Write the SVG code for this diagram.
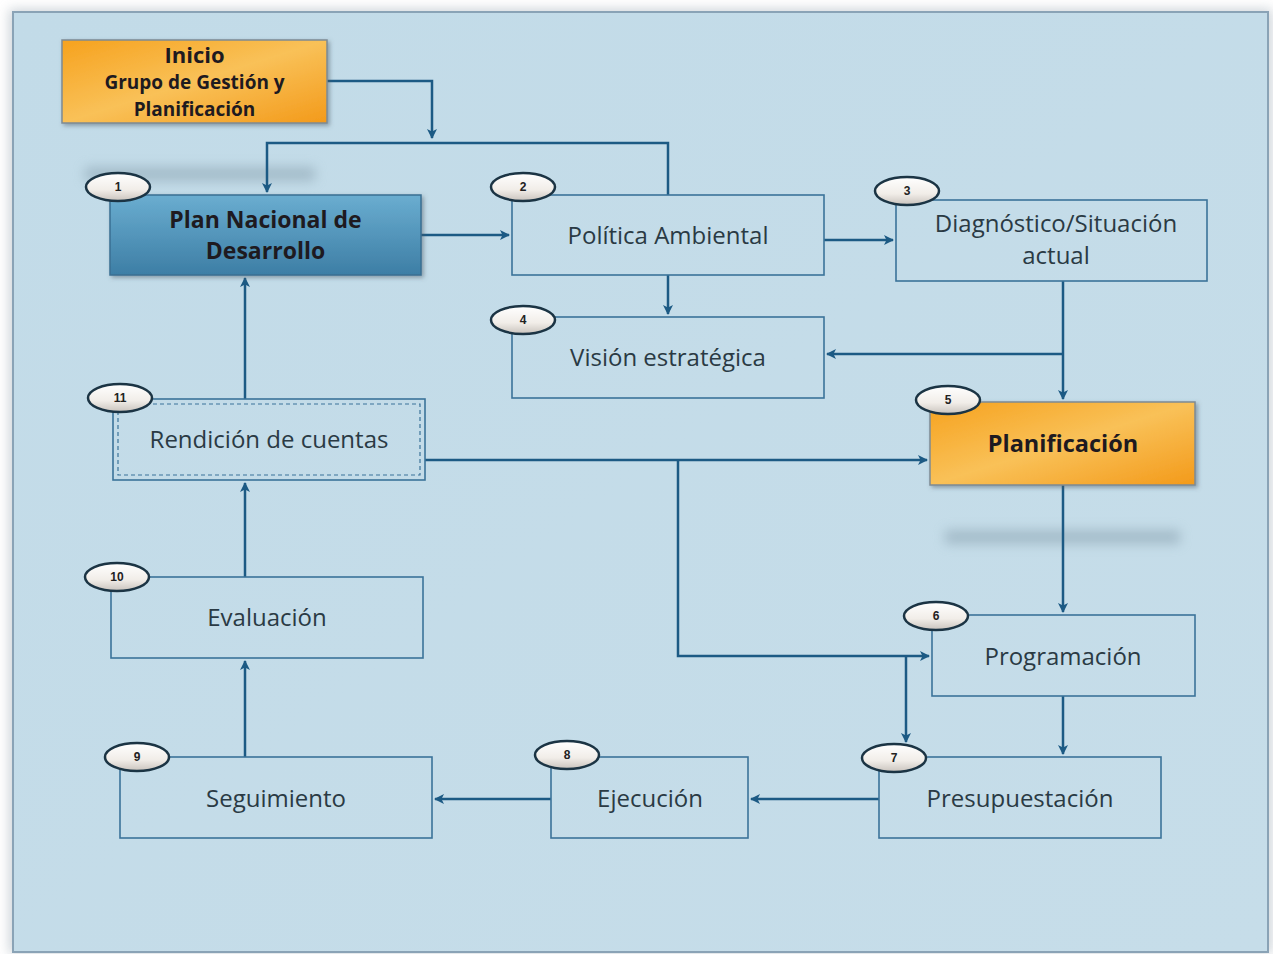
<svg xmlns="http://www.w3.org/2000/svg" width="1273" height="954" viewBox="0 0 1273 954">
<defs>
<linearGradient id="gOrange" x1="0" y1="0" x2="1" y2="1">
<stop offset="0" stop-color="#f6a21e"/>
<stop offset="0.5" stop-color="#f9c158"/>
<stop offset="1" stop-color="#f39a1a"/>
</linearGradient>
<linearGradient id="gBlue" x1="0" y1="0" x2="0" y2="1">
<stop offset="0" stop-color="#6aadd0"/>
<stop offset="1" stop-color="#3d7ea5"/>
</linearGradient>
<linearGradient id="gBadge" x1="0" y1="0" x2="0" y2="1">
<stop offset="0" stop-color="#ffffff"/>
<stop offset="0.6" stop-color="#f1ede8"/>
<stop offset="1" stop-color="#c9c3bd"/>
</linearGradient>
<linearGradient id="gPanel" x1="0" y1="0" x2="1" y2="1">
<stop offset="0" stop-color="#c2dbe8"/>
<stop offset="1" stop-color="#c6dde9"/>
</linearGradient>
<filter id="blur" x="-20%" y="-100%" width="140%" height="300%">
<feGaussianBlur stdDeviation="6"/>
</filter>
<filter id="shadow" x="-5%" y="-10%" width="115%" height="130%">
<feDropShadow dx="2" dy="2" stdDeviation="2" flood-color="#4a5a66" flood-opacity="0.5"/>
</filter>
<marker id="arr" viewBox="0 0 10 10" refX="9" refY="5" markerWidth="4" markerHeight="4" orient="auto-start-reverse" markerUnits="strokeWidth">
<path d="M0,0 L10,5 L0,10 L2.5,5 z" fill="#1c5a84"/>
</marker>
</defs>
<style>
.box{fill:none;stroke:#3b7399;stroke-width:1.6}
.lbl{font-family:"Open Sans","Noto Sans","Liberation Sans",sans-serif;font-size:24px;fill:#2a3a44;text-anchor:middle}
.bold{font-family:"Open Sans","Noto Sans","Liberation Sans",sans-serif;font-weight:bold;fill:#1e1a20;text-anchor:middle}
.badge{fill:url(#gBadge);stroke:#1b3444;stroke-width:2.5}
.bnum{font-family:"Liberation Sans","DejaVu Sans",sans-serif;font-weight:bold;font-size:12px;fill:#222;text-anchor:middle}
.con{fill:none;stroke:#1c5a84;stroke-width:2.5}
</style>
<rect x="0" y="0" width="1273" height="954" fill="#ffffff"/>
<rect x="9" y="9" width="1263" height="945" fill="#b9c2c9" filter="url(#blur)" opacity="0.7"/>
<rect x="13" y="12" width="1255" height="940" fill="url(#gPanel)" stroke="#8aa3b6" stroke-width="2"/>
<rect x="85" y="167" width="230" height="14" fill="#8ea6b4" filter="url(#blur)" opacity="0.6"/>
<rect x="945" y="530" width="235" height="14" fill="#8ea6b4" filter="url(#blur)" opacity="0.6"/>

<g id="connectors">
<path class="con" d="M327,81 H432 V138" marker-end="url(#arr)"/>
<path class="con" d="M668,195 V143 H267 V192" marker-end="url(#arr)"/>
<path class="con" d="M421,235 H509" marker-end="url(#arr)"/>
<path class="con" d="M824,240 H893" marker-end="url(#arr)"/>
<path class="con" d="M668,275 V314" marker-end="url(#arr)"/>
<path class="con" d="M1063,281 V399" marker-end="url(#arr)"/>
<path class="con" d="M1063,354 H827" marker-end="url(#arr)"/>
<path class="con" d="M425,460 H927" marker-end="url(#arr)"/>
<path class="con" d="M678,460 V656 H929" marker-end="url(#arr)"/>
<path class="con" d="M906,656 V742" marker-end="url(#arr)"/>
<path class="con" d="M1063,485 V612" marker-end="url(#arr)"/>
<path class="con" d="M1063,696 V754" marker-end="url(#arr)"/>
<path class="con" d="M879,799 H751" marker-end="url(#arr)"/>
<path class="con" d="M551,799 H435" marker-end="url(#arr)"/>
<path class="con" d="M245,757 V661" marker-end="url(#arr)"/>
<path class="con" d="M245,577 V483" marker-end="url(#arr)"/>
<path class="con" d="M245,399 V278" marker-end="url(#arr)"/>
</g>

<g id="inicio">
<rect x="62" y="40" width="265" height="83" fill="url(#gOrange)" stroke="#7d8a94" stroke-width="1.5" filter="url(#shadow)"/>
<text class="bold" x="194.5" y="63" font-size="22">Inicio</text>
<text class="bold" x="194.5" y="89" font-size="19">Grupo de Gestión y</text>
<text class="bold" x="194.5" y="116" font-size="19">Planificación</text>
</g>

<g id="n1">
<rect x="110" y="195" width="311" height="80" fill="url(#gBlue)" stroke="#3a6f92" stroke-width="1.5" filter="url(#shadow)"/>
<text class="bold" x="265.5" y="228" font-size="23" fill="#142230">Plan Nacional de</text>
<text class="bold" x="265.5" y="259" font-size="23">Desarrollo</text>
<ellipse class="badge" cx="118" cy="187" rx="32" ry="14"/>
<text class="bnum" x="118" y="191">1</text>
</g>

<g id="n2">
<rect class="box" x="512" y="195" width="312" height="80"/>
<text class="lbl" x="668" y="244">Política Ambiental</text>
<ellipse class="badge" cx="523" cy="187" rx="32" ry="14"/>
<text class="bnum" x="523" y="191">2</text>
</g>

<g id="n3">
<rect class="box" x="896" y="200" width="311" height="81"/>
<text class="lbl" x="1056" y="232">Diagnóstico/Situación</text>
<text class="lbl" x="1056" y="264">actual</text>
<ellipse class="badge" cx="907" cy="191" rx="32" ry="14"/>
<text class="bnum" x="907" y="195">3</text>
</g>

<g id="n4">
<rect class="box" x="512" y="317" width="312" height="81"/>
<text class="lbl" x="668" y="366">Visión estratégica</text>
<ellipse class="badge" cx="523" cy="320" rx="32" ry="14"/>
<text class="bnum" x="523" y="324">4</text>
</g>

<g id="n5">
<rect x="930" y="402" width="265" height="83" fill="url(#gOrange)" stroke="#7d8a94" stroke-width="1.5" filter="url(#shadow)"/>
<text class="bold" x="1063" y="452" font-size="23.5">Planificación</text>
<ellipse class="badge" cx="948" cy="400" rx="32" ry="14"/>
<text class="bnum" x="948" y="404">5</text>
</g>

<g id="n6">
<rect class="box" x="932" y="615" width="263" height="81"/>
<text class="lbl" x="1063" y="665">Programación</text>
<ellipse class="badge" cx="936" cy="616" rx="32" ry="14"/>
<text class="bnum" x="936" y="620">6</text>
</g>

<g id="n7">
<rect class="box" x="879" y="757" width="282" height="81"/>
<text class="lbl" x="1020" y="807">Presupuestación</text>
<ellipse class="badge" cx="894" cy="758" rx="32" ry="14"/>
<text class="bnum" x="894" y="762">7</text>
</g>

<g id="n8">
<rect class="box" x="551" y="757" width="197" height="81"/>
<text class="lbl" x="650" y="807">Ejecución</text>
<ellipse class="badge" cx="567" cy="755" rx="32" ry="14"/>
<text class="bnum" x="567" y="759">8</text>
</g>

<g id="n9">
<rect class="box" x="120" y="757" width="312" height="81"/>
<text class="lbl" x="276" y="807">Seguimiento</text>
<ellipse class="badge" cx="137" cy="757" rx="32" ry="14"/>
<text class="bnum" x="137" y="761">9</text>
</g>

<g id="n10">
<rect class="box" x="111" y="577" width="312" height="81"/>
<text class="lbl" x="267" y="626">Evaluación</text>
<ellipse class="badge" cx="117" cy="577" rx="32" ry="14"/>
<text class="bnum" x="117" y="581">10</text>
</g>

<g id="n11">
<rect class="box" x="113" y="399" width="312" height="81"/>
<rect x="118" y="404" width="302" height="71" fill="none" stroke="#3b7399" stroke-width="1.2" stroke-dasharray="4,3"/>
<text class="lbl" x="269" y="448">Rendición de cuentas</text>
<ellipse class="badge" cx="120" cy="398" rx="32" ry="14"/>
<text class="bnum" x="120" y="402">11</text>
</g>
</svg>
